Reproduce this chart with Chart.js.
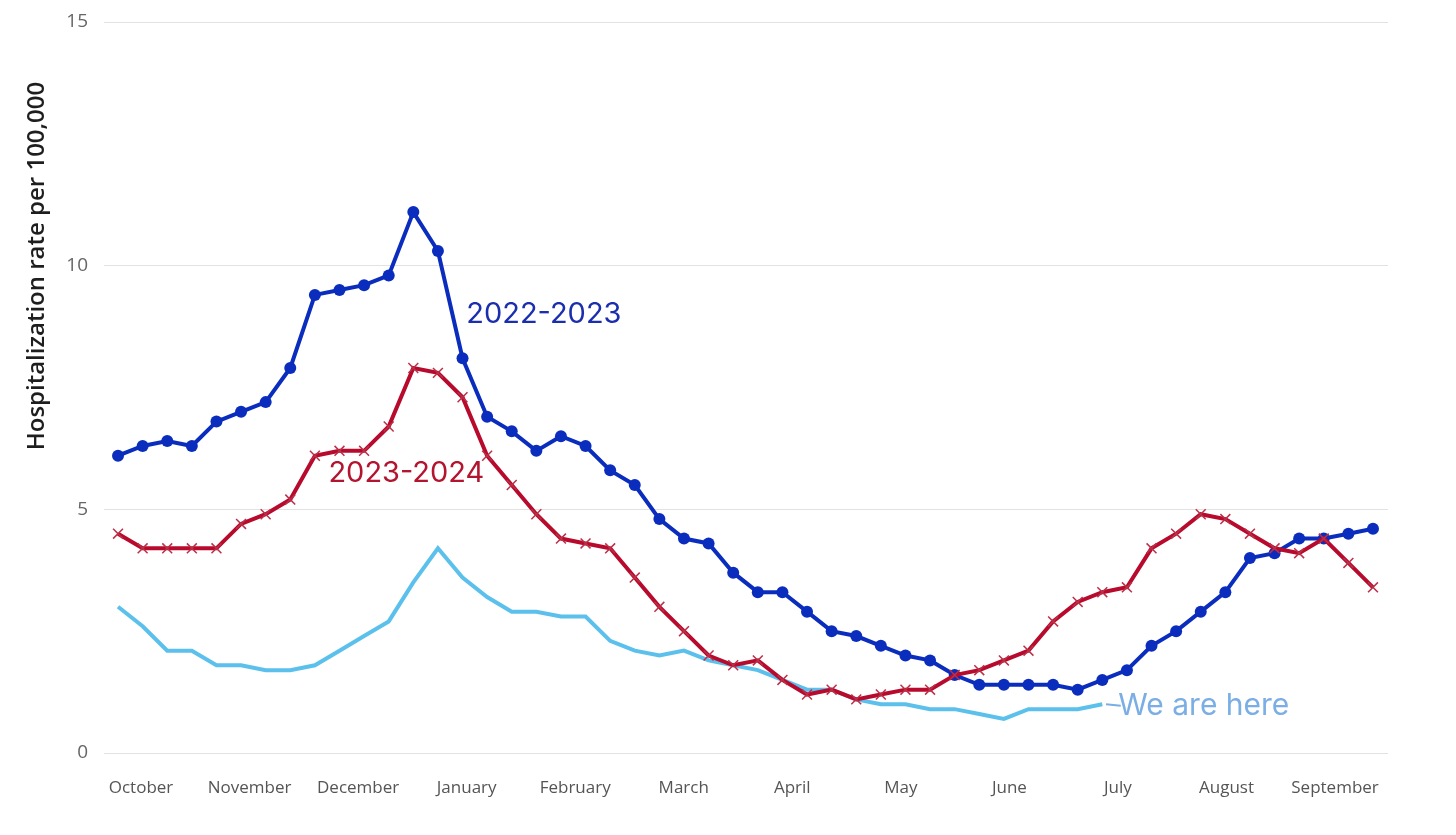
<!DOCTYPE html>
<html>
<head>
<meta charset="utf-8">
<title>Hospitalization rate per 100,000</title>
<script src="https://cdn.jsdelivr.net/npm/chart.js@4.4.1/dist/chart.umd.min.js"></script>
<style>
  html, body { margin: 0; padding: 0; background: #fff; }
  #wrap { width: 1456px; height: 835px; }
</style>
</head>
<body>
<div id="wrap"><canvas id="lineChart"></canvas></div>
<script>
const months = ['October', 'November', 'December', 'January', 'February', 'March',
  'April', 'May', 'June', 'July', 'August', 'September'];

// weekly rates, first week of October onwards
const season2022 = [6.1, 6.3, 6.4, 6.3, 6.8, 7.0, 7.2, 7.9, 9.4, 9.5, 9.6, 9.8, 11.1, 10.3, 8.1,
  6.9, 6.6, 6.2, 6.5, 6.3, 5.8, 5.5, 4.8, 4.4, 4.3, 3.7, 3.3, 3.3, 2.9, 2.5, 2.4, 2.2, 2.0, 1.9,
  1.6, 1.4, 1.4, 1.4, 1.4, 1.3, 1.5, 1.7, 2.2, 2.5, 2.9, 3.3, 4.0, 4.1, 4.4, 4.4, 4.5, 4.6];
const season2023 = [4.5, 4.2, 4.2, 4.2, 4.2, 4.7, 4.9, 5.2, 6.1, 6.2, 6.2, 6.7, 7.9, 7.8, 7.3,
  6.1, 5.5, 4.9, 4.4, 4.3, 4.2, 3.6, 3.0, 2.5, 2.0, 1.8, 1.9, 1.5, 1.2, 1.3, 1.1, 1.2, 1.3, 1.3,
  1.6, 1.7, 1.9, 2.1, 2.7, 3.1, 3.3, 3.4, 4.2, 4.5, 4.9, 4.8, 4.5, 4.2, 4.1, 4.4, 3.9, 3.4];
const season2024 = [3.0, 2.6, 2.1, 2.1, 1.8, 1.8, 1.7, 1.7, 1.8, 2.1, 2.4, 2.7, 3.5, 4.2, 3.6,
  3.2, 2.9, 2.9, 2.8, 2.8, 2.3, 2.1, 2.0, 2.1, 1.9, 1.8, 1.7, 1.5, 1.3, 1.3, 1.1, 1.0, 1.0, 0.9,
  0.9, 0.8, 0.7, 0.9, 0.9, 0.9, 1.0];

const yTicks = [0, 5, 10, 15];
const yTitle = 'Hospitalization rate per 100,000';

// text labels placed in data units (week, rate)
const notes = [
  { text: '2022-2023', week: 14.15, rate: 9.0, color: '#1b2fae' },
  { text: '2023-2024', week: 8.55, rate: 5.75, color: '#b3142f' },
  { text: 'We are here', week: 40.65, rate: 0.97, color: '#7aaee4' }
];

const toPoints = arr => arr.map((v, i) => ({ x: i, y: v }));

const notesPlugin = {
  id: 'notes',
  afterDatasetsDraw(chart) {
    const { ctx, scales } = chart;
    ctx.save();

    // axis title sits higher than the middle of the plot in the original
    ctx.translate(37, 266);
    ctx.rotate(-Math.PI / 2);
    ctx.font = '600 24px "Open Sans"';
    ctx.fillStyle = '#1e1e1e';
    ctx.textAlign = 'center';
    ctx.textBaseline = 'middle';
    ctx.fillText(yTitle, 0, 0);
    ctx.setTransform(1, 0, 0, 1, 0, 0);

    // short leader from the end of the current season
    const last = season2024.length - 1;
    ctx.strokeStyle = '#7aaee4';
    ctx.lineWidth = 2;
    ctx.beginPath();
    ctx.moveTo(scales.x.getPixelForValue(last + 0.15), scales.y.getPixelForValue(season2024[last]));
    ctx.lineTo(scales.x.getPixelForValue(last + 0.75), scales.y.getPixelForValue(season2024[last] - 0.03));
    ctx.stroke();

    ctx.textAlign = 'left';
    ctx.textBaseline = 'middle';
    notes.forEach(n => {
      ctx.font = n.text === 'We are here' ? '400 30px Inter' : '400 29px Inter';
      ctx.fillStyle = n.color;
      ctx.fillText(n.text, scales.x.getPixelForValue(n.week), scales.y.getPixelForValue(n.rate));
    });
    ctx.restore();
  }
};

new Chart(document.getElementById('lineChart'), {
  type: 'line',
  data: {
    datasets: [
      {
        label: '2022-2023',
        data: toPoints(season2022),
        borderColor: '#0b2dbd',
        backgroundColor: '#0b2dbd',
        borderWidth: 4,
        pointStyle: 'circle',
        pointRadius: 6,
        pointBorderWidth: 0,
        pointBackgroundColor: '#0b2dbd',
        order: 2
      },
      {
        label: '2023-2024',
        data: toPoints(season2023),
        borderColor: '#b70a2c',
        backgroundColor: '#b70a2c',
        borderWidth: 4,
        pointStyle: 'crossRot',
        pointRadius: 7,
        pointBorderWidth: 1.5,
        pointBorderColor: '#bb3049',
        order: 1
      },
      {
        label: '2024-2025',
        data: toPoints(season2024),
        borderColor: '#5cc0ec',
        backgroundColor: '#5cc0ec',
        borderWidth: 4,
        pointRadius: 0,
        order: 3
      }
    ]
  },
  options: {
    responsive: true,
    maintainAspectRatio: false,
    animation: false,
    events: [],
    layout: { padding: { top: 22, right: 68, bottom: 0, left: 0 } },
    plugins: {
      legend: { display: false },
      tooltip: { enabled: false }
    },
    elements: { line: { tension: 0 } },
    scales: {
      x: {
        type: 'linear',
        display: false,
        min: -0.57,
        max: 51.61
      },
      months: {
        type: 'linear',
        position: 'bottom',
        min: -0.341,
        max: 11.488,
        grid: { display: false },
        border: { display: false },
        afterBuildTicks: scale => { scale.ticks = months.map((m, i) => ({ value: i })); },
        afterFit: scale => { scale.height = 82; scale.paddingLeft = 0; scale.paddingRight = 0; },
        ticks: {
          autoSkip: false,
          maxRotation: 0,
          padding: 17,
          color: '#555',
          font: { family: '"Open Sans"', size: 17 },
          callback: v => months[v]
        }
      },
      y: {
        min: 0,
        max: 15,
        afterBuildTicks: scale => { scale.ticks = yTicks.map(v => ({ value: v })); },
        afterFit: scale => { scale.width = 104; scale.paddingTop = 0; scale.paddingBottom = 0; },
        grid: { color: '#e2e2e2', lineWidth: 1, drawTicks: false },
        border: { display: false },
        ticks: {
          padding: 16,
          color: '#666',
          font: { family: '"Open Sans"', size: 19 }
        }
      }
    }
  },
  plugins: [notesPlugin]
});
</script>
</body>
</html>
